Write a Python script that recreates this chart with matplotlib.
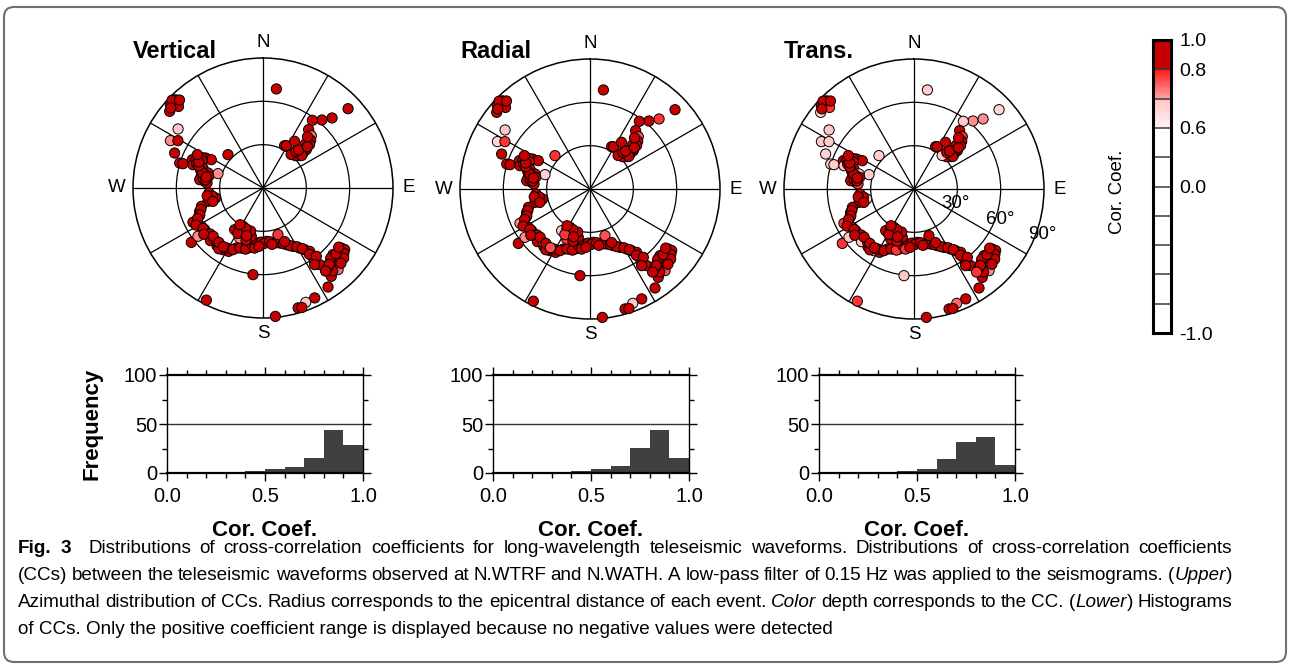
import re
import numpy as np
import matplotlib
matplotlib.use('Agg')
import matplotlib.pyplot as plt
from matplotlib.colors import LinearSegmentedColormap
from matplotlib.patches import FancyBboxPatch
from matplotlib.ticker import MultipleLocator, FixedLocator
from matplotlib.transforms import IdentityTransform

plt.rcParams['font.family'] = ['Liberation Sans', 'DejaVu Sans']

# ---------------- data ----------------
components = ['Vertical', 'Radial', 'Trans.']

# event azimuth (deg, clockwise from N) and epicentral distance (deg)
azimuth = [
    # NW far
    315.2, 312.0, 314.0, 309.4, 314.0, 316.5, 311.0,
    # NW stragglers
    304.8, 297.1, 299.1, 291.6, 286.7, 286.9,
    # NW inner
    291.9, 295.6, 297.6, 298.7, 288.4, 293.0, 296.5, 290.5, 294.0,
    # isolated
    313.6, 287.7,
    # W cluster
    288.4, 280.7, 276.5, 275.1, 277.5, 285.3, 283.0, 279.0, 286.0, 282.0, 278.0,
    # WSW
    264.7, 257.7, 258.1, 256.4, 261.0, 262.0, 255.0,
    # SW-S-SE chain
    253.4, 249.8, 246.1, 243.4, 243.9, 240.6, 238.1, 234.5, 231.5, 227.8,
    223.7, 218.6, 213.0, 208.5, 204.0, 198.4, 194.0, 189.7, 185.2, 176.4,
    169.6, 163.1, 157.6, 152.8, 148.6, 146.0, 143.6, 144.2, 144.8, 143.5,
    251.0, 247.0, 245.0, 241.0, 236.0, 229.0, 225.0, 221.0, 216.0, 211.0,
    206.0, 201.0, 196.0, 191.0, 187.0, 182.0, 179.0, 173.0, 166.0, 160.0,
    155.0, 150.0, 147.0, 145.0, 142.0, 146.0,
    # S cluster
    207.6, 201.0, 200.1, 193.6, 214.2, 205.0, 196.0, 204.0, 210.0, 198.0,
    # misc
    162.2, 232.8, 233.4,
    # SE cluster
    127.5, 133.6, 133.1, 138.4, 138.8, 142.3, 146.7, 127.0, 137.4, 130.0,
    135.0, 140.0, 129.0, 136.0, 141.0, 131.0,
    # far south
    186.6, 206.8, 174.5, 154.8, 163.7, 159.5, 162.0,
    # NE
    7.7, 47.0, 44.6, 40.9, 36.1, 38.0, 42.7, 45.0, 47.0, 48.5, 48.8, 48.6,
    45.0, 40.0, 27.0, 29.0, 34.0, 44.0, 46.0, 50.0, 42.0,
    # extra events inside the dense clusters
    132.0, 134.0, 139.0, 128.0, 143.0, 203.0, 209.0, 199.0, 212.0,
    284.0, 281.0, 289.0, 292.0, 297.0, 232.0, 226.0, 219.0, 214.0,
    188.0, 184.0, 171.0, 158.0, 43.0, 47.0, 41.0,
]
distance = [
    86.0, 86.3, 81.3, 83.6, 87.5, 84.0, 84.5,
    71.6, 72.0, 67.4, 65.8, 60.2, 57.9,
    52.7, 49.1, 44.8, 40.8, 51.1, 50.5, 47.0, 49.0, 46.0,
    33.5, 32.7,
    43.8, 43.5, 40.6, 38.9, 44.2, 39.5, 41.5, 42.0, 45.0, 38.5, 40.0,
    37.5, 37.8, 33.5, 39.2, 35.5, 39.0, 36.0,
    44.5, 46.7, 48.5, 51.6, 54.0, 51.7, 50.3, 49.6, 50.1, 49.8,
    50.1, 51.1, 50.9, 49.9, 45.5, 43.8, 42.8, 41.0, 38.2, 37.0,
    38.2, 39.8, 42.4, 45.4, 48.7, 51.5, 54.5, 58.3, 62.1, 66.0,
    45.5, 47.5, 50.0, 53.0, 50.0, 48.5, 51.5, 49.0, 52.0, 48.5,
    47.5, 44.5, 44.0, 40.0, 39.5, 37.5, 38.5, 37.5, 39.0, 41.0,
    44.0, 47.0, 50.0, 56.0, 60.0, 64.0,
    29.9, 32.1, 36.9, 34.4, 34.9, 38.2, 31.0, 34.0, 32.0, 38.0,
    33.9, 62.3, 56.1,
    68.3, 66.9, 72.7, 69.5, 73.6, 77.3, 82.0, 70.8, 76.8, 69.5,
    70.5, 75.0, 72.0, 67.5, 71.0, 74.0,
    60.4, 87.0, 89.3, 84.1, 86.5, 84.5, 87.0,
    69.2, 80.5, 68.1, 62.3, 58.0, 51.3, 49.3, 46.7, 44.1, 40.0, 36.8, 33.9,
    31.7, 30.3, 32.9, 33.5, 39.0, 42.0, 38.0, 35.0, 34.0,
    68.0, 75.0, 70.0, 66.5, 72.0, 30.5, 36.0, 35.0, 30.0,
    43.0, 40.0, 47.0, 48.0, 51.0, 52.0, 48.0, 48.5, 49.0,
    42.0, 40.5, 39.5, 40.0, 36.0, 42.0, 47.0,
]
cc_vertical = [
    .90, .88, .90, .90, .91, .89, .90,
    .69, .72, .90, .90, .90, .90,
    .90, .88, .90, .89, .90, .91, .88, .90, .89,
    .90, .72,
    .90, .88, .91, .90, .89, .90, .88, .91, .90, .89, .90,
    .90, .89, .90, .88, .91, .90, .89,
    .90, .89, .90, .91, .90, .89, .90, .88, .90, .91,
    .90, .89, .90, .88, .90, .91, .90, .89, .90, .88,
    .90, .91, .90, .89, .90, .88, .90, .91, .90, .89,
    .90, .89, .91, .90, .88, .90, .89, .90, .91, .88,
    .90, .89, .90, .91, .88, .90, .89, .90, .91, .88,
    .90, .89, .90, .91, .88, .90,
    .90, .89, .90, .91, .88, .72, .90, .89, .90, .88,
    .78, .90, .72,
    .90, .89, .90, .91, .88, .90, .90, .89, .74, .90,
    .91, .89, .90, .88, .90, .89,
    .90, .90, .90, .90, .90, .69, .90,
    .90, .90, .90, .90, .90, .90, .74, .90, .89, .90, .91, .88,
    .90, .89, .90, .91, .90, .89, .90, .88, .90,
    .90, .89, .91, .90, .88, .90, .89, .90, .91,
    .90, .88, .90, .89, .90, .90, .91, .88, .90,
    .89, .90, .88, .90, .90, .89, .91,
]
cc_radial = [
    .90, .90, .88, .90, .90, .91, .89,
    .69, .66, .78, .90, .90, .90,
    .90, .88, .90, .88, .90, .91, .88, .90, .89,
    .78, .68,
    .90, .88, .69, .90, .89, .88, .90, .86, .90, .89, .90,
    .88, .90, .89, .90, .88, .90, .89,
    .90, .89, .90, .76, .72, .89, .90, .88, .90, .91,
    .78, .89, .90, .88, .90, .91, .90, .89, .90, .88,
    .90, .91, .90, .89, .90, .88, .90, .91, .90, .89,
    .90, .89, .91, .90, .88, .90, .89, .76, .91, .88,
    .90, .89, .90, .91, .88, .90, .89, .90, .91, .88,
    .90, .89, .90, .91, .88, .90,
    .90, .89, .90, .91, .69, .78, .90, .89, .90, .88,
    .76, .90, .72,
    .90, .89, .90, .91, .88, .90, .90, .89, .76, .90,
    .91, .89, .90, .88, .90, .89,
    .90, .90, .90, .90, .88, .69, .90,
    .90, .90, .78, .90, .90, .90, .76, .90, .89, .90, .91, .88,
    .90, .89, .90, .91, .90, .89, .90, .88, .90,
    .90, .89, .91, .90, .88, .90, .78, .90, .91,
    .90, .88, .90, .89, .90, .90, .91, .88, .76,
    .89, .90, .88, .90, .90, .89, .91,
]
cc_trans = [
    .88, .90, .78, .66, .90, .86, .87,
    .69, .69, .68, .67, .69, .68,
    .88, .85, .90, .86, .69, .85, .90, .88, .82,
    .68, .68,
    .88, .90, .85, .78, .90, .69, .90, .84, .90, .88, .80,
    .88, .75, .69, .90, .86, .80, .90,
    .90, .85, .88, .74, .78, .89, .84, .88, .90, .91,
    .80, .89, .69, .88, .90, .91, .72, .89, .90, .88,
    .84, .91, .90, .82, .90, .88, .90, .91, .86, .89,
    .88, .80, .91, .84, .88, .90, .69, .90, .91, .82,
    .90, .89, .78, .91, .88, .90, .89, .90, .86, .88,
    .90, .80, .90, .84, .88, .90,
    .90, .89, .78, .91, .88, .85, .90, .80, .90, .88,
    .85, .78, .69,
    .85, .80, .88, .78, .84, .80, .90, .85, .72, .82,
    .88, .80, .86, .83, .80, .84,
    .69, .78, .90, .90, .88, .74, .90,
    .68, .66, .72, .72, .68, .88, .78, .90, .89, .90, .91, .88,
    .90, .68, .90, .91, .88, .89, .90, .88, .90,
    .84, .80, .88, .82, .78, .90, .89, .84, .91,
    .86, .80, .90, .89, .85, .90, .82, .88, .90,
    .78, .90, .84, .90, .88, .89, .86,
]
cc_all = [cc_vertical, cc_radial, cc_trans]

# histograms (percent per 0.1 bin)
hist_bin_left = [0.0, 0.1, 0.2, 0.3, 0.4, 0.5, 0.6, 0.7, 0.8, 0.9]
freq_vertical = [0, 0, 0, 0.3, 2.2, 4.3, 6.3, 15.3, 44.3, 28.3]
freq_radial = [0, 0, 0, 0.3, 1.7, 3.7, 6.8, 25.7, 44.3, 14.9]
freq_trans = [0, 0, 0, 1.5, 1.7, 4.4, 13.9, 32.1, 37.2, 8.4]
freq_all = [freq_vertical, freq_radial, freq_trans]

# colour scale: CC value -> position on the colour bar
cbar_value_nodes = [-1.0, 0.0, 0.6, 0.8, 1.0]
cbar_pos_nodes = [-1.0, 0.0, 0.4, 0.8, 1.0]
cbar_tick_values = [1.0, 0.8, 0.6, 0.0, -1.0]

# ---------------- figure ----------------
W, H = 1290, 666
fig = plt.figure(figsize=(W / 100, H / 100), dpi=100)

cmap = LinearSegmentedColormap.from_list('cc', [
    (0.0, '#ffffff'), (0.70, '#ffffff'), (0.7001, '#fff4f4'),
    (0.7999, '#ffc4c4'), (0.80, '#ffa6a6'), (0.8999, '#ff1a1a'),
    (0.90, '#c40000'), (1.0, '#c40000')])


def cc_to_color(cc):
    pos = np.interp(np.asarray(cc), cbar_value_nodes, cbar_pos_nodes)
    return cmap((pos + 1) / 2)


def fx(px):
    return px / W


def fy(py):
    return 1 - py / H


polar_centers = [(263, 188), (590, 189), (914, 189)]
R = 130
az_rad = np.deg2rad(azimuth)

for i, (cx, cy) in enumerate(polar_centers):
    ax = fig.add_axes([fx(cx - R), fy(cy + R), 2 * R / W, 2 * R / H],
                      projection='polar')
    ax.set_theta_zero_location('N')
    ax.set_theta_direction(-1)
    ax.set_ylim(0, 90)
    ax.set_thetagrids(np.arange(0, 360, 30), labels=[''] * 12)
    ax.set_rgrids([30, 60], labels=['', ''])
    ax.grid(True, color='black', lw=0.9, ls='-')
    ax.spines['polar'].set_linewidth(1.1)
    ax.tick_params(length=0)
    ax.scatter(az_rad, distance, c=cc_to_color(cc_all[i]), s=54,
               edgecolors='black', linewidths=0.7, zorder=3, clip_on=False)
    for ang, lab in zip([0, 90, 180, 270], ['N', 'E', 'S', 'W']):
        ax.text(np.deg2rad(ang), 101, lab, ha='center', va='center',
                fontsize=13.5)
    if i == 2:
        for r, lab in zip([30.5, 63.7, 94.0], ['30°', '60°', '90°']):
            ax.text(np.deg2rad(109.5), r, lab, ha='center', va='center',
                    fontsize=13.5)
    fig.text(fx(cx - R), fy(51), components[i], fontsize=17,
             fontweight='bold', ha='left', va='center')

# colour bar
cax = fig.add_axes([fx(1153), fy(333), 18 / W, 293 / H])
p = np.linspace(-1, 1, 800)
img = cmap((p + 1) / 2)[:, None, :]
cax.imshow(img, origin='lower', extent=[0, 1, -1, 1], aspect='auto',
           interpolation='nearest')
for b in np.linspace(-1, 1, 11)[1:-1]:
    cax.axhline(b, color='#3a3a3a', lw=1.1)
cax.set_xlim(0, 1)
cax.set_ylim(-1, 1)
cax.set_xticks([])
cax.set_yticks(np.interp(cbar_tick_values, cbar_value_nodes, cbar_pos_nodes))
cax.set_yticklabels(['%.1f' % v for v in cbar_tick_values])
cax.yaxis.tick_right()
cax.tick_params(axis='y', length=0, pad=6, labelsize=14)
for s in cax.spines.values():
    s.set_linewidth(2.2)
fig.text(fx(1118), fy(192), 'Cor. Coef.', rotation=90, fontsize=13.5,
         ha='center', va='center')

# histograms
hist_left = [167, 493, 819]
for i, left in enumerate(hist_left):
    ax = fig.add_axes([fx(left), fy(473), 196 / W, 98 / H])
    ax.bar(hist_bin_left, freq_all[i], width=0.1, align='edge',
           color='#404040', lw=0, zorder=2)
    ax.axhline(50, color='#333333', lw=1.0, zorder=1)
    ax.set_xlim(0, 1)
    ax.set_ylim(0, 100)
    ax.set_xticks([0, 0.5, 1.0])
    ax.set_xticklabels(['0.0', '0.5', '1.0'])
    ax.xaxis.set_minor_locator(MultipleLocator(0.1))
    ax.set_yticks([0, 50, 100])
    ax.set_yticklabels(['0', '50', '100'])
    ax.yaxis.set_minor_locator(FixedLocator([25, 75]))
    ax.tick_params(which='both', direction='out', top=True, right=True,
                   labeltop=False, labelright=False, width=1.0)
    ax.tick_params(which='major', length=6, labelsize=14.5)
    ax.tick_params(which='minor', length=3.5)
    ax.tick_params(axis='x', which='major', pad=4)
    ax.tick_params(axis='y', which='major', pad=1)
    ax.spines['top'].set_linewidth(1.6)
    ax.spines['bottom'].set_linewidth(1.6)
    ax.spines['left'].set_linewidth(1.0)
    ax.spines['right'].set_linewidth(1.0)
    fig.text(fx(left + 98), fy(530), 'Cor. Coef.', fontsize=16,
             fontweight='bold', ha='center', va='center')
fig.text(fx(92), fy(424), 'Frequency', rotation=90, fontsize=16,
         fontweight='bold', ha='center', va='center')

# caption (first three lines justified)
caption_lines = [
    "#Fig.# #3#  Distributions of cross-correlation coefficients for long-wavelength teleseismic waveforms. Distributions of cross-correlation coefficients",
    "(CCs) between the teleseismic waveforms observed at N.WTRF and N.WATH. A low-pass filter of 0.15 Hz was applied to the seismograms. (*Upper*)",
    "Azimuthal distribution of CCs. Radius corresponds to the epicentral distance of each event. *Color* depth corresponds to the CC. (*Lower*) Histograms",
    "of CCs. Only the positive coefficient range is displayed because no negative values were detected",
]
cap_family = ['Liberation Sans Narrow', 'Liberation Sans', 'DejaVu Sans']
renderer = fig.canvas.get_renderer()


def parse_word(word):
    segs, italic, bold = [], False, False
    for part in re.split(r'([*#])', word):
        if part == '*':
            italic = not italic
        elif part == '#':
            bold = not bold
        elif part:
            segs.append((part, italic, bold))
    return segs


def make_text(x, y, s, italic, bold, size):
    return fig.text(x, y, s, fontsize=size, family=cap_family,
                    style='italic' if italic else 'normal',
                    weight='bold' if bold else 'normal',
                    ha='left', va='baseline', transform=IdentityTransform())


def seg_width(s, italic, bold, size):
    t = make_text(0, 0, s, italic, bold, size)
    w = t.get_window_extent(renderer).width
    t.remove()
    return w


x_left, x_right = 18, 1232
target = x_right - x_left
# font size: compromise between the last line's length and the first line's
size_last = 12 * 811 / seg_width(caption_lines[-1], False, False, 12)
plain_first = caption_lines[0].replace('#', '').replace('*', '').replace('  ', ' ')
size_first = 12 * (target * 0.975) / seg_width(plain_first, False, False, 12)
cap_size = 0.5 * (size_last + size_first)

baselines = [553, 580, 607, 634]
for li, line in enumerate(caption_lines):
    ypix = H - baselines[li]
    if li == len(caption_lines) - 1:
        make_text(x_left, ypix, line, False, False, cap_size)
        continue
    words = [parse_word(w) for w in line.split(' ')]
    seg_w = [[seg_width(s, it, bd, cap_size) for s, it, bd in w] for w in words]
    widths = [sum(ws) for ws in seg_w]
    gap = (target - sum(widths)) / (len(words) - 1)
    x = x_left
    for w, ws, ww in zip(words, seg_w, widths):
        xx = x
        for (s, it, bd), sw in zip(w, ws):
            make_text(xx, ypix, s, it, bd, cap_size)
            xx += sw
        x += ww + gap

# rounded frame
frame = FancyBboxPatch((4, 4), 1282, 655,
                       boxstyle='round,pad=0,rounding_size=10',
                       transform=IdentityTransform(), fill=False,
                       edgecolor='#707070', lw=1.5)
fig.patches.append(frame)

fig.savefig('out.png', dpi=100)
